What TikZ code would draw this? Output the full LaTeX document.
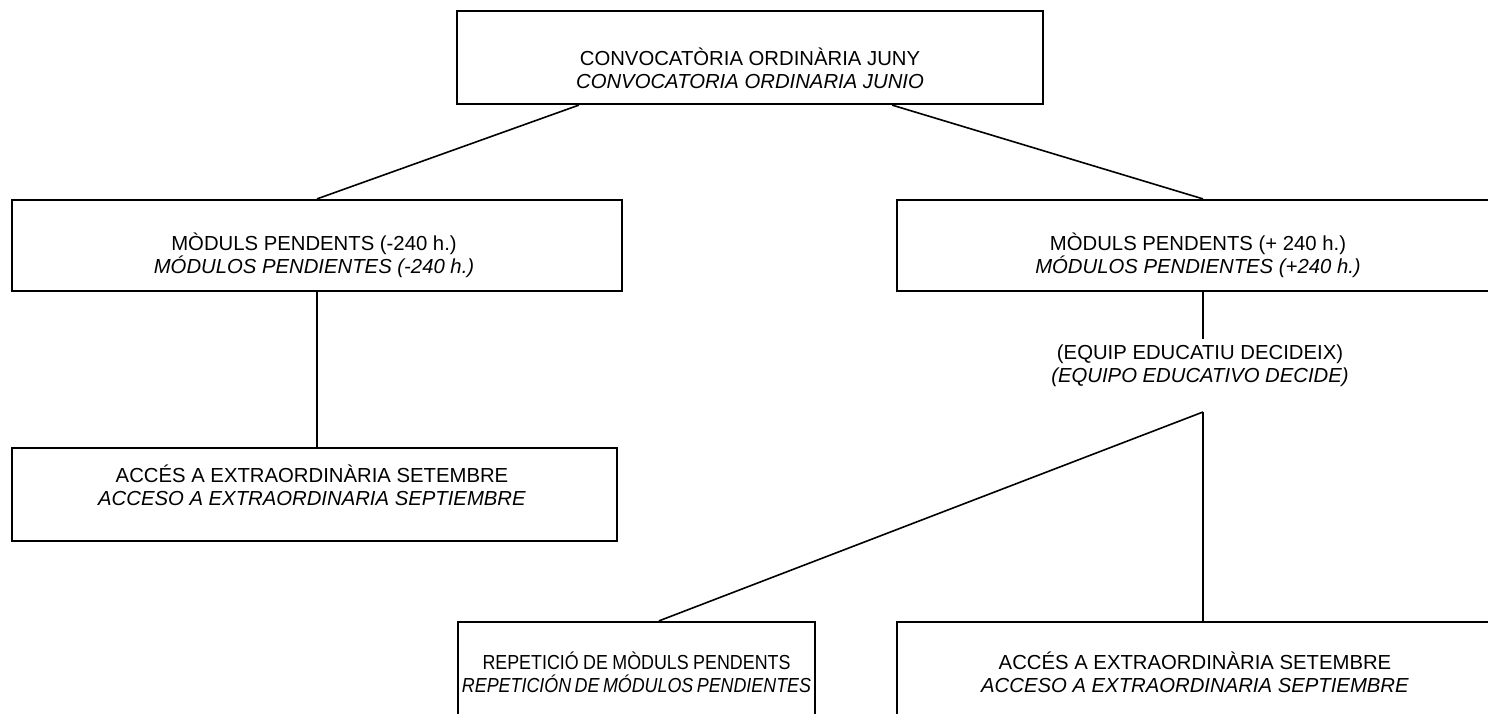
\documentclass[tikz,border=0pt]{standalone}
\usepackage{fontspec}
\setmainfont{Liberation Sans}
\begin{document}
\begin{tikzpicture}[x=1pt,y=-1pt,
  box/.style={draw, line width=2.2pt, rectangle, inner sep=0pt},
  lbl/.style={align=center, inner sep=0pt, font=\fontsize{20.3}{23}\selectfont},
  conn/.style={line width=1.6pt}]
\useasboundingbox (0,0) rectangle (1488,714);
\clip (0,0) rectangle (1488,714);
% boxes
\node[box, minimum width=586pt, minimum height=93pt] (top) at (750,57.5) {};
\node[box, minimum width=610pt, minimum height=91pt] (lmid) at (317,245.5) {};
\node[box, minimum width=612pt, minimum height=91pt] (rmid) at (1203,245.5) {};
\node[box, minimum width=605pt, minimum height=93pt] (lbot) at (314.5,494.5) {};
\node[box, minimum width=357pt, minimum height=118pt] (mbot) at (636.5,681) {};
\node[box, minimum width=612pt, minimum height=118pt] (rbot) at (1203,681) {};
% texts
\node[lbl] (ttop) at (750,68) {CONVOCATÒRIA ORDINÀRIA JUNY\\\textit{CONVOCATORIA ORDINARIA JUNIO}};
\node[lbl] (tlmid) at (314,255) {MÒDULS PENDENTS (-240 h.)\\\textit{MÓDULOS PENDIENTES (-240 h.)}};
\node[lbl] (trmid) at (1198,255) {MÒDULS PENDENTS (+ 240 h.)\\\textit{MÓDULOS PENDIENTES (+240 h.)}};
\node[lbl] (tlbot) at (312,485) {ACCÉS A EXTRAORDINÀRIA SETEMBRE\\\textit{ACCESO A EXTRAORDINARIA SEPTIEMBRE}};
\node[lbl] (equip) at (1200,366) {(EQUIP EDUCATIU DECIDEIX)\\\textit{(EQUIPO EDUCATIVO DECIDE)}};
\node[lbl] (tmbot) at (636.5,672) {\scalebox{0.88}[1]{\spaceskip=5pt REPETICIÓ DE MÒDULS PENDENTS}\\\scalebox{0.88}[1]{\itshape\spaceskip=4pt REPETICIÓN DE MÓDULOS PENDIENTES}};
\node[lbl] (trbot) at (1195,672) {ACCÉS A EXTRAORDINÀRIA SETEMBRE\\\textit{ACCESO A EXTRAORDINARIA SEPTIEMBRE}};
% connectors
\coordinate (j) at (1203,412);
\draw[conn] ([xshift=123pt]top.south west) -- (lmid.north);
\draw[conn] ([xshift=-152pt]top.south east) -- (rmid.north);
\draw[conn] (lmid.south) -- (lmid.south |- lbot.north);
\draw[conn, shorten >=6pt] (rmid.south) -- (rmid.south |- equip.north);
\draw[conn] (j) -- (rbot.north);
\draw[conn] (j) -- ([xshift=202pt]mbot.north west);
\end{tikzpicture}
\end{document}
